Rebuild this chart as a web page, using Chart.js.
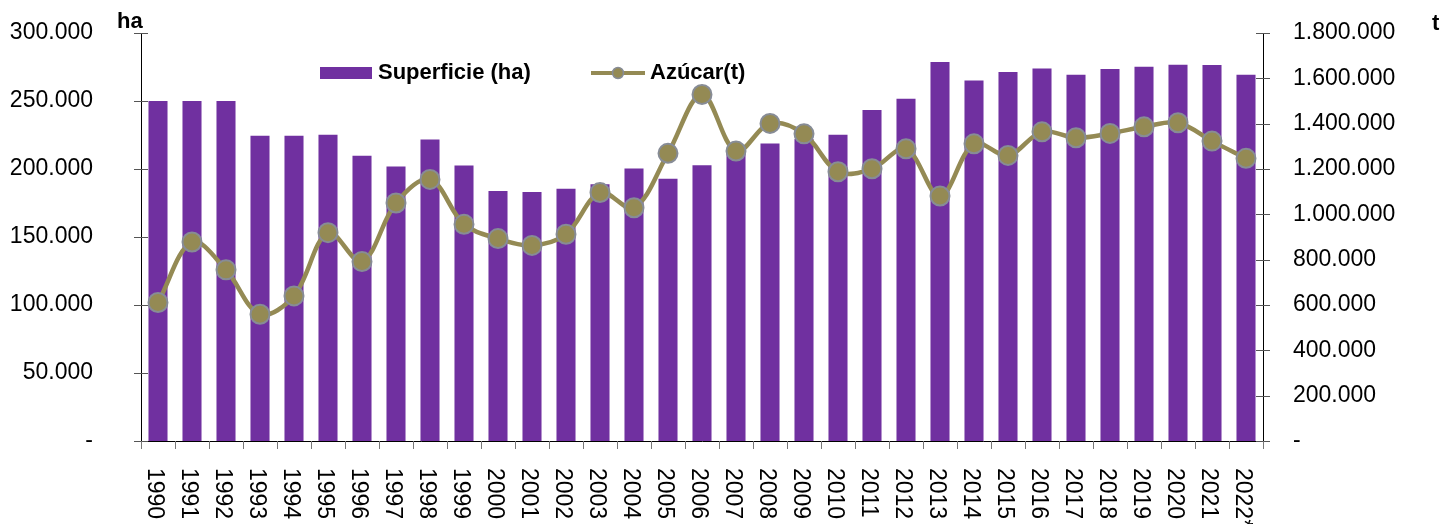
<!DOCTYPE html>
<html>
<head>
<meta charset="utf-8">
<script src="https://cdn.jsdelivr.net/npm/chart.js@4.4.1/dist/chart.umd.min.js"></script>
<style>
  html, body { margin: 0; padding: 0; background: #fff; }
  #wrap { width: 1445px; height: 524px; }
</style>
</head>
<body>
<div id="wrap"><canvas id="c" width="1445" height="524"></canvas></div>
<script>
const categories = ['1990','1991','1992','1993','1994','1995','1996','1997','1998','1999',
  '2000','2001','2002','2003','2004','2005','2006','2007','2008','2009','2010','2011',
  '2012','2013','2014','2015','2016','2017','2018','2019','2020','2021','2022*'];

const superficie = [250000, 250000, 250000, 224400, 224400, 225100, 209700, 201900, 221700, 202600,
  183800, 183000, 185500, 188700, 200400, 192900, 202800, 212000, 218700, 222000, 225100, 243400,
  251700, 278600, 265100, 271300, 273900, 269300, 273500, 275200, 276600, 276400, 269300];

const azucar = [611000, 878000, 755000, 559000, 640000, 919000, 792000, 1050000, 1154000, 956000,
  893000, 863000, 912000, 1096000, 1029000, 1269000, 1529000, 1279000, 1401000, 1355000, 1188000, 1201000,
  1289000, 1081000, 1311000, 1260000, 1364000, 1338000, 1357000, 1386000, 1404000, 1323000, 1247000];

const seriesLabels = ['Superficie (ha)', 'Azúcar(t)'];
const axisTitles = ['ha', 't'];
const leftAxis = { min: 0, max: 300000, step: 50000 };
const rightAxis = { min: 0, max: 1800000, step: 200000 };

const PURPLE = '#7030A0';
const OLIVE = '#948A54';
const MARKER_EDGE = '#878c96';
const FONT = "'Liberation Sans', Arial, sans-serif";

function fmt(v) {
  if (v === 0) return '-';
  return String(Math.round(v)).replace(/\B(?=(\d{3})+(?!\d))/g, '.');
}

const decor = {
  id: 'decor',
  afterDraw(chart) {
    const ctx = chart.ctx;
    const ca = chart.chartArea;
    const x = chart.scales.x, y = chart.scales.y, y1 = chart.scales.y1;
    ctx.save();
    ctx.strokeStyle = '#555';
    ctx.lineWidth = 1;
    y.ticks.forEach(t => {
      const py = Math.round(y.getPixelForValue(t.value)) + 0.5;
      ctx.beginPath(); ctx.moveTo(ca.left - 7, py); ctx.lineTo(ca.left + 7, py); ctx.stroke();
    });
    y1.ticks.forEach(t => {
      const py = Math.round(y1.getPixelForValue(t.value)) + 0.5;
      ctx.beginPath(); ctx.moveTo(ca.right - 7, py); ctx.lineTo(ca.right + 7, py); ctx.stroke();
    });
    ctx.strokeStyle = '#777';
    const n = categories.length;
    const w = (ca.right - ca.left) / n;
    for (let i = 0; i <= n; i++) {
      const px = Math.round(ca.left + i * w) + 0.5;
      ctx.beginPath(); ctx.moveTo(px, ca.bottom); ctx.lineTo(px, ca.bottom + 8); ctx.stroke();
    }
    ctx.fillStyle = '#000';
    ctx.font = '23px ' + FONT;
    ctx.textAlign = 'left';
    ctx.textBaseline = 'middle';
    categories.forEach((c, i) => {
      const px = x.getPixelForValue(i);
      ctx.save();
      ctx.translate(px - 4, ca.bottom + 27);
      ctx.rotate(Math.PI / 2);
      ctx.fillText(c, 0, 0);
      ctx.restore();
    });
    ctx.font = 'bold 22px ' + FONT;
    ctx.textBaseline = 'alphabetic';
    ctx.textAlign = 'left';
    ctx.fillText(axisTitles[0], 117, 28);
    ctx.fillText(axisTitles[1], 1432, 30);
    const ly = 73;
    ctx.fillStyle = PURPLE;
    ctx.fillRect(320, 67, 52, 12);
    ctx.fillStyle = '#000';
    ctx.textBaseline = 'middle';
    ctx.fillText(chart.data.datasets[1].label, 378, ly);
    ctx.strokeStyle = OLIVE;
    ctx.lineWidth = 4;
    ctx.beginPath(); ctx.moveTo(591, ly); ctx.lineTo(645, ly); ctx.stroke();
    ctx.beginPath(); ctx.arc(618, ly, 5.5, 0, Math.PI * 2);
    ctx.fillStyle = OLIVE; ctx.fill();
    ctx.strokeStyle = MARKER_EDGE; ctx.lineWidth = 1.5; ctx.stroke();
    ctx.fillStyle = '#000';
    ctx.fillText(chart.data.datasets[0].label, 650, ly);
    ctx.restore();
  }
};

new Chart(document.getElementById('c'), {
  data: {
    labels: categories,
    datasets: [
      {
        type: 'line',
        label: seriesLabels[1],
        data: azucar,
        yAxisID: 'y1',
        order: 0,
        borderColor: OLIVE,
        borderWidth: 4.5,
        tension: 0.35,
        pointRadius: 9.5,
        pointBackgroundColor: OLIVE,
        pointBorderColor: MARKER_EDGE,
        pointBorderWidth: 2
      },
      {
        type: 'bar',
        label: seriesLabels[0],
        data: superficie,
        yAxisID: 'y',
        order: 1,
        backgroundColor: PURPLE,
        borderWidth: 0,
        barPercentage: 0.56,
        categoryPercentage: 1.0
      }
    ]
  },
  options: {
    responsive: false,
    animation: false,
    devicePixelRatio: 1,
    layout: { padding: { top: 33, left: 0, right: 0, bottom: 0 } },
    plugins: { legend: { display: false }, tooltip: { enabled: false } },
    scales: {
      x: {
        offset: true,
        grid: { display: false },
        border: { display: true, color: '#000', width: 1 },
        ticks: { display: false },
        afterFit(s) { s.height = 83; }
      },
      y: {
        position: 'left',
        min: leftAxis.min, max: leftAxis.max,
        grid: { display: false, drawTicks: true, tickLength: 48 },
        border: { display: true, color: '#000', width: 1 },
        ticks: {
          stepSize: leftAxis.step,
          padding: 0,
          color: '#000',
          font: { family: FONT, size: 23 },
          callback: v => fmt(v)
        },
        afterFit(s) { s.width = 141; s.paddingTop = 13; s.paddingBottom = 13; }
      },
      y1: {
        position: 'right',
        min: rightAxis.min, max: rightAxis.max,
        grid: { display: false, drawTicks: true, tickLength: 30 },
        border: { display: true, color: '#000', width: 1 },
        ticks: {
          stepSize: rightAxis.step,
          padding: 0,
          color: '#000',
          font: { family: FONT, size: 23 },
          callback: v => fmt(v)
        },
        afterFit(s) { s.width = 182; s.paddingTop = 13; s.paddingBottom = 13; }
      }
    }
  },
  plugins: [decor]
});
</script>
</body>
</html>
